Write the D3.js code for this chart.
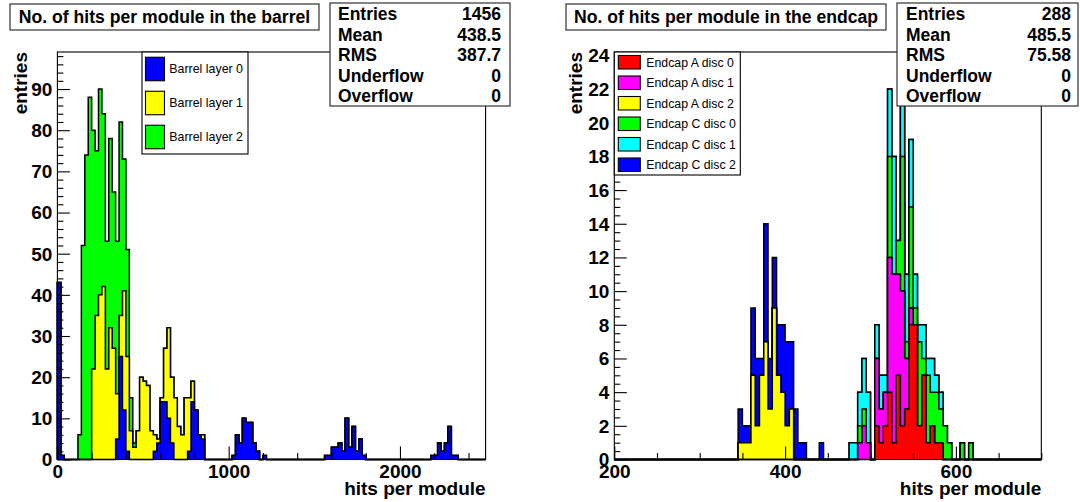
<!DOCTYPE html>
<html>
<head>
<meta charset="utf-8">
<script src="https://cdn.jsdelivr.net/npm/d3@7"></script>
<style>
  html, body { margin: 0; padding: 0; background: #fff; }
  svg { display: block; }
  text { font-family: "Liberation Sans", Arial, Helvetica, sans-serif; }
</style>
</head>
<body>
<svg id="chart" width="1080" height="502"></svg>
<script>
// ---------------- Barrel: modules per bin of 20 hits, [bin low edge, modules] ----------------
const barrelBinWidth = 20;
const barrelRange = [0, 2500];
const barrelLayer0 = [[0,43],[20,1],[340,5],[360,25],[380,12],[400,2],[560,2],[580,4],[600,14],[620,14],
  [640,10],[660,4],[760,2],[780,14],[800,12],[820,6],[840,5],[1020,1],[1040,6],[1060,4],[1080,10],
  [1100,9],[1120,9],[1140,4],[1160,2],[1200,1],[1560,1],[1580,1],[1600,3],[1620,3],[1640,4],[1660,2],
  [1680,10],[1700,3],[1720,8],[1740,2],[1760,5],[1780,1],[2180,1],[2200,1],[2220,4],[2240,2],[2260,4],
  [2280,8],[2300,1],[2320,1]];
const barrelLayer1 = [[200,22],[220,35],[240,40],[260,42],[280,22],[300,32],[320,27],[340,11],[360,10],
  [380,29],[400,23],[420,7],[440,3],[460,7],[480,20],[500,19],[520,18],[540,7],[560,4],[580,1],[600,1],
  [620,13],[640,22],[660,16],[680,15],[700,8],[720,6],[740,15],[760,13],[780,5],[840,1]];
const barrelLayer2 = [[120,6],[140,52],[160,74],[180,88],[200,58],[220,40],[240,50],[260,42],[280,31],
  [300,46],[320,38],[340,37],[360,47],[380,32],[400,26],[420,8],[440,1]];
const barrelNames = ["Barrel layer 0", "Barrel layer 1", "Barrel layer 2"];
const barrelXTicks = [0, 1000, 2000];
const barrelYTicks = [0, 10, 20, 30, 40, 50, 60, 70, 80, 90];
const barrelStatLabels = ["Entries", "Mean", "RMS", "Underflow", "Overflow"];
const barrelStatValues = ["1456", "438.5", "387.7", "0", "0"];

// ---------------- Endcap: modules per bin of 5 hits ----------------
const endcapBinWidth = 5;
const endcapRange = [200, 700];
const endcapA0 = [[505,2],[510,1],[515,2],[520,4],[525,1],[530,5],[535,2],[540,3],[545,8],[550,8],
  [555,2],[560,5],[565,1],[570,2],[575,1],[580,1]];
const endcapA1 = [[485,1],[490,2],[495,1],[505,4],[510,2],[515,2],[520,8],[525,10],[530,6],[535,8],
  [540,3],[545,1]];
const endcapA2 = [[345,1],[350,1],[355,1],[360,5],[365,2],[370,5],[375,7],[380,3],[385,9],[390,5],
  [395,4],[400,2],[405,3]];
const endcapC0 = [[485,1],[490,1],[520,6],[530,2],[535,8],[540,1],[545,6],[550,1],[555,5],[560,1],
  [565,4],[570,2],[575,3],[580,2],[585,2],[590,1],[605,1],[615,1]];
const endcapC1 = [[475,1],[480,1],[485,2],[490,3],[495,3],[505,2],[510,2],[515,1],[520,4],[525,7],
  [535,4],[540,4],[545,4],[550,2],[555,1],[560,2],[565,1],[570,2],[575,1],[580,1]];
const endcapC2 = [[345,2],[350,1],[355,1],[360,4],[365,4],[370,1],[375,7],[380,3],[385,3],[390,3],
  [395,4],[400,5],[405,4],[410,3],[415,1],[420,1],[440,1]];
const endcapNames = ["Endcap A disc 0", "Endcap A disc 1", "Endcap A disc 2",
                     "Endcap C disc 0", "Endcap C disc 1", "Endcap C disc 2"];
const endcapXTicks = [200, 400, 600];
const endcapYTicks = [0, 2, 4, 6, 8, 10, 12, 14, 16, 18, 20, 22, 24];
const endcapStatLabels = ["Entries", "Mean", "RMS", "Underflow", "Overflow"];
const endcapStatValues = ["288", "485.5", "75.58", "0", "0"];

const svg = d3.select("#chart");
const FONT = '"Liberation Sans", Arial, Helvetica, sans-serif';

function drawPanel(p) {
  const x = d3.scaleLinear().domain(p.range).range([p.left, p.right]);
  const y = d3.scaleLinear().domain([0, p.ymax]).range([p.bottom, p.top]);
  const nBins = Math.round((p.range[1] - p.range[0]) / p.binWidth);
  const edges = d3.range(nBins + 1).map(i => p.range[0] + i * p.binWidth);

  // dense table of bin contents, one column per series
  const keys = p.series.map(s => s.name);
  const table = d3.range(nBins).map(i => {
    const row = { lo: edges[i] };
    keys.forEach(k => row[k] = 0);
    return row;
  });
  p.series.forEach(s => s.values.forEach(([lo, n]) => {
    table[Math.round((lo - p.range[0]) / p.binWidth)][s.name] += n;
  }));
  const stacked = d3.stack().keys(keys)(table);

  const g = svg.append("g");

  // frame background
  g.append("rect").attr("x", p.left).attr("y", p.top)
    .attr("width", p.right - p.left).attr("height", p.bottom - p.top)
    .attr("fill", "#fff");

  const area = d3.area().x(d => x(d[0])).y0(y(0)).y1(d => y(d[1])).curve(d3.curveStepAfter);
  const line = d3.line().x(d => x(d[0])).y(d => y(d[1])).curve(d3.curveStepAfter);

  // cumulative histograms, the full stack first, each lower sum drawn over it
  for (let k = stacked.length - 1; k >= 0; k--) {
    const layer = stacked[k];
    const pts = [[edges[0], 0]];
    layer.forEach((d, i) => pts.push([edges[i], d[1]]));
    pts.push([edges[nBins], layer[nBins - 1][1]]);
    pts.push([edges[nBins], 0]);
    g.append("path").attr("d", area(pts)).attr("fill", p.series[k].color);
    g.append("path").attr("d", line(pts)).attr("fill", "none")
      .attr("stroke", "#000").attr("stroke-width", 1.5).attr("stroke-linejoin", "miter");
  }

  // axes (ticks point into the frame)
  const xMinor = d3.range(p.range[0], p.range[1] + 1e-9, p.xMinorStep).filter(v => !p.xTicks.includes(v));
  const yMinor = d3.range(0, p.ymax + 1e-9, p.yMinorStep).filter(v => !p.yTicks.includes(v));

  g.append("g").attr("transform", `translate(0,${p.bottom})`)
    .call(d3.axisBottom(x).tickValues(p.xTicks).tickSize(-13).tickPadding(5).tickFormat(d3.format("d")));
  g.append("g").attr("transform", `translate(0,${p.bottom})`)
    .call(d3.axisBottom(x).tickValues(xMinor).tickSize(-6.5).tickFormat(""));
  const yAxis = g.append("g").attr("transform", `translate(${p.left},0)`)
    .call(d3.axisLeft(y).tickValues(p.yTicks).tickSize(-12.5).tickPadding(5).tickFormat(d3.format("d")));
  g.append("g").attr("transform", `translate(${p.left},0)`)
    .call(d3.axisLeft(y).tickValues(yMinor).tickSize(-6).tickFormat(""));

  g.selectAll(".domain").remove();
  g.selectAll(".tick line").attr("stroke", "#000").attr("stroke-width", 1.1);
  g.selectAll(".tick text").attr("fill", "#000")
    .style("font-family", FONT).style("font-weight", "bold").style("font-size", "19px");
  yAxis.selectAll(".tick text").attr("dy", "0.34em");

  // frame outline
  g.append("rect").attr("x", p.left).attr("y", p.top)
    .attr("width", p.right - p.left).attr("height", p.bottom - p.top)
    .attr("fill", "none").attr("stroke", "#000").attr("stroke-width", 1.1);

  // axis titles
  g.append("text").attr("x", p.right).attr("y", 494.5).attr("text-anchor", "end")
    .style("font-weight", "bold").style("font-size", "19px").text("hits per module");
  g.append("text").attr("transform", `translate(${p.yTitleX},${p.top}) rotate(-90)`)
    .attr("text-anchor", "end")
    .style("font-weight", "bold").style("font-size", "19px").text("entries");

  // legend
  const L = p.legend;
  g.append("rect").attr("x", L.x).attr("y", L.y).attr("width", L.w).attr("height", L.h)
    .attr("fill", "#fff").attr("stroke", "#000").attr("stroke-width", 1.1);
  const rowH = L.h / p.series.length;
  p.series.forEach((s, i) => {
    const cy = L.y + rowH * (i + 0.5);
    g.append("rect").attr("x", L.x + L.swX).attr("y", cy - L.swH / 2)
      .attr("width", L.swW).attr("height", L.swH)
      .attr("fill", s.color).attr("stroke", "#000").attr("stroke-width", 1.1);
    g.append("text").attr("x", L.x + L.textX).attr("y", cy).attr("dy", "0.35em")
      .style("font-size", L.font + "px").attr("fill", "#000").text(s.name);
  });

  // statistics box
  const S = p.stats;
  g.append("rect").attr("x", S.x).attr("y", S.y).attr("width", S.w).attr("height", S.h)
    .attr("fill", "#fff").attr("stroke", "#333").attr("stroke-width", 1.2);
  p.statLabels.forEach((lab, i) => {
    const by = S.y + 17.3 + i * 20.4;
    g.append("text").attr("x", S.x + S.padL).attr("y", by)
      .style("font-weight", "bold").style("font-size", "17.5px").text(lab);
    g.append("text").attr("x", S.x + S.w - S.padR).attr("y", by).attr("text-anchor", "end")
      .style("font-weight", "bold").style("font-size", "17.5px").text(p.statValues[i]);
  });

  // title box
  const T = p.title;
  g.append("rect").attr("x", T.x).attr("y", T.y).attr("width", T.w).attr("height", T.h)
    .attr("fill", "#fff").attr("stroke", "#333").attr("stroke-width", 1.2);
  g.append("text").attr("x", T.x + T.w / 2).attr("y", T.y + T.h / 2).attr("dy", "0.36em")
    .attr("text-anchor", "middle")
    .style("font-weight", "bold").style("font-size", "17.6px").text(T.text);
}

drawPanel({
  left: 57.4, right: 485.6, top: 52, bottom: 459.5,
  range: barrelRange, binWidth: barrelBinWidth, ymax: 99,
  xTicks: barrelXTicks, xMinorStep: 200, yTicks: barrelYTicks, yMinorStep: 2,
  yTitleX: 27,
  series: [
    { name: barrelNames[0], color: "#0000ff", values: barrelLayer0 },
    { name: barrelNames[1], color: "#ffff00", values: barrelLayer1 },
    { name: barrelNames[2], color: "#00ff00", values: barrelLayer2 }
  ],
  legend: { x: 142, y: 52, w: 106, h: 102, swX: 3.5, swW: 19, swH: 23.5, textX: 27.3, font: 12.4 },
  stats: { x: 330, y: 3, w: 180, h: 103, padL: 8, padR: 9 },
  statLabels: barrelStatLabels, statValues: barrelStatValues,
  title: { x: 10, y: 4, w: 309, h: 26, text: "No. of hits per module in the barrel" }
});

drawPanel({
  left: 614.3, right: 1041.3, top: 52, bottom: 459.5,
  range: endcapRange, binWidth: endcapBinWidth, ymax: 24.2,
  xTicks: endcapXTicks, xMinorStep: 50, yTicks: endcapYTicks, yMinorStep: 0.5,
  yTitleX: 582,
  series: [
    { name: endcapNames[0], color: "#ff0000", values: endcapA0 },
    { name: endcapNames[1], color: "#ff00ff", values: endcapA1 },
    { name: endcapNames[2], color: "#ffff00", values: endcapA2 },
    { name: endcapNames[3], color: "#00ff00", values: endcapC0 },
    { name: endcapNames[4], color: "#00ffff", values: endcapC1 },
    { name: endcapNames[5], color: "#0000ff", values: endcapC2 }
  ],
  legend: { x: 614.3, y: 52, w: 126, h: 123, swX: 4, swW: 22, swH: 13.5, textX: 32, font: 12.3 },
  stats: { x: 897, y: 3, w: 181, h: 103, padL: 9, padR: 7 },
  statLabels: endcapStatLabels, statValues: endcapStatValues,
  title: { x: 566, y: 4, w: 320, h: 26, text: "No. of hits per module in the endcap" }
});
</script>
</body>
</html>
